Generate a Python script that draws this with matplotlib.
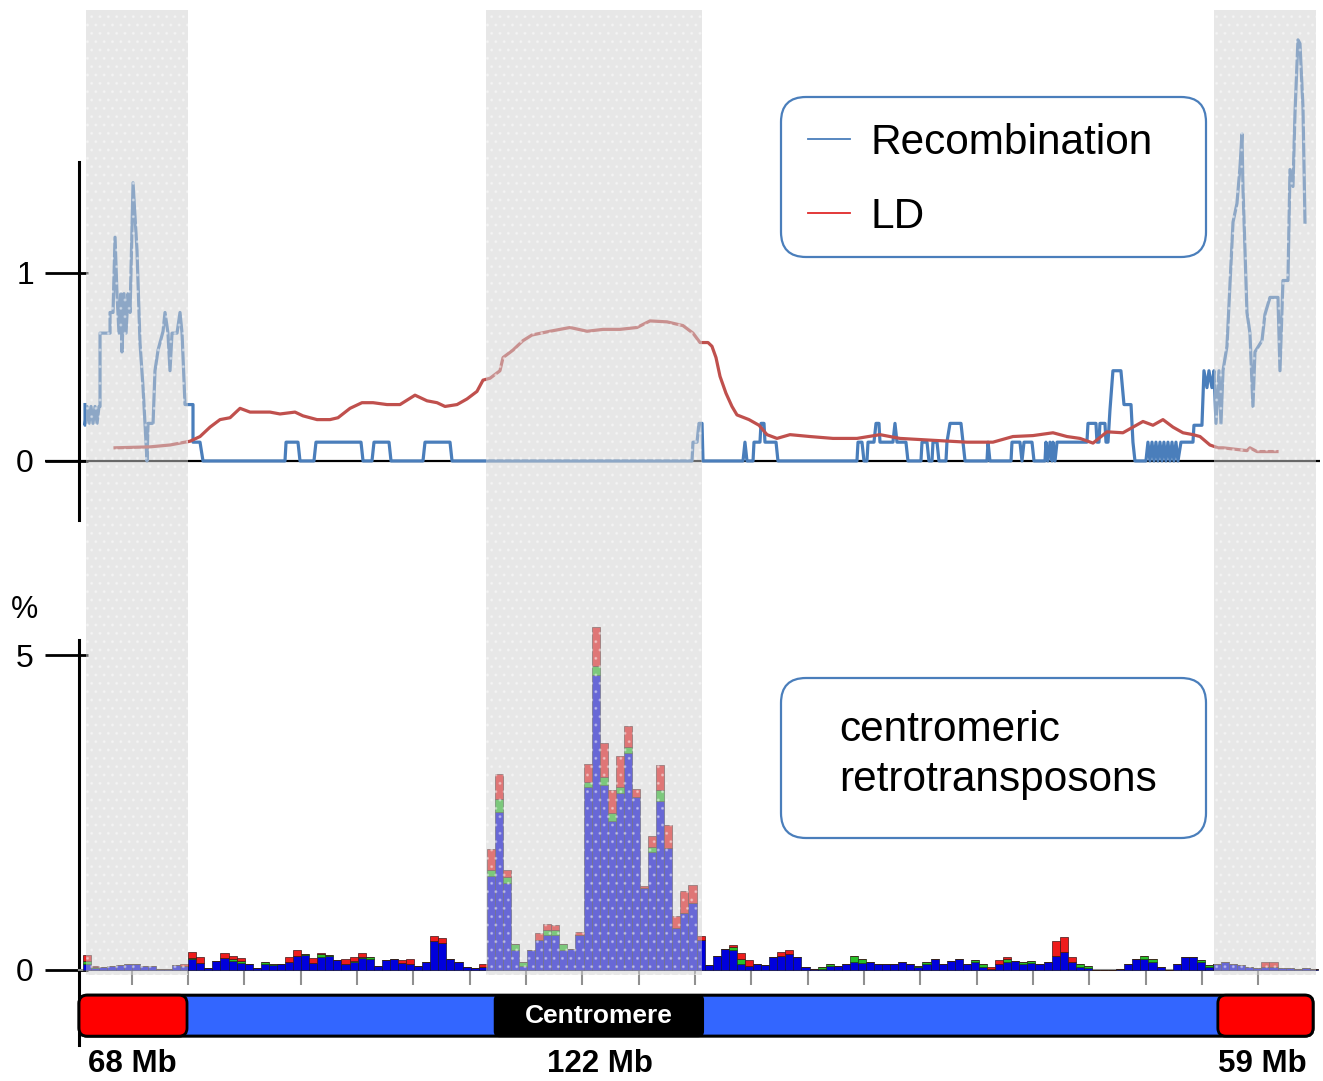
import numpy as np
import matplotlib.pyplot as plt
from matplotlib.patches import Rectangle, FancyBboxPatch
from matplotlib.lines import Line2D
from matplotlib.transforms import blended_transform_factory

plt.rcParams['font.family'] = ['Liberation Sans', 'DejaVu Sans']

# ---- top panel: recombination (step-like) and LD, x in bin units ----
recomb_pos = [0.62, 0.62, 0.87, 1.12, 1.36, 1.61, 1.86, 2.11, 2.35, 2.48,
              2.48, 3.72, 3.72, 4.09, 4.34, 4.58, 4.83, 5.08, 5.20, 5.45,
              5.70, 5.95, 6.20, 6.57, 6.82, 7.06, 7.43, 7.81, 8.30, 8.43,
              9.05, 9.29, 9.67, 10.29, 10.53, 10.90, 11.15, 11.40, 12.02, 12.39,
              12.64, 13.01,
              14.00, 14.00, 14.87, 15.24, 25.40, 25.53, 27.01, 27.26, 28.99, 29.24,
              34.82, 35.07, 36.18, 36.43, 38.29, 38.54, 42.50, 42.75, 45.85, 46.10,
              75.84, 75.96, 76.46, 76.70, 77.08, 77.20,
              82.16, 82.40, 82.65, 83.40, 83.52, 84.26, 84.39, 84.76, 84.88, 86.25, 86.49,
              96.28, 96.41, 96.90, 97.15, 97.52, 97.65, 98.39, 98.64, 99.01, 99.13,
              100.74, 100.99, 101.24, 102.35, 102.60,
              104.21, 104.34, 104.96, 105.20, 105.58, 105.70, 106.20, 106.44, 107.31, 107.43,
              107.81, 109.17, 109.42, 109.67,
              112.39, 112.52, 112.76, 115.37, 115.49, 116.48, 116.73, 116.98, 117.97, 118.22,
              119.58, 119.70, 119.95, 120.20, 120.45, 120.57, 120.82, 121.07, 124.78, 124.91,
              125.90, 126.02, 126.27, 126.39, 127.01, 127.14, 127.39, 127.63, 128.00, 128.99,
              129.37, 130.24, 130.48, 130.73, 132.09,
              132.34, 132.59, 132.84, 133.09, 133.33, 133.58, 133.83, 134.08, 134.32, 134.57,
              134.82, 135.07, 135.32, 135.56, 135.81, 136.06, 136.43,
              137.92, 138.04, 139.03, 139.28, 139.65, 139.90, 140.27, 140.52, 140.77, 141.14,
              141.39, 141.64, 142.13, 142.88, 143.37, 143.74, 143.99, 144.11, 144.61, 144.98,
              145.35, 145.60, 146.47, 146.84, 147.46, 148.45, 148.70, 149.07, 149.69, 149.94,
              150.31, 150.56, 150.93, 151.18, 151.55, 151.80]
recomb_val = [0.30, 0.19, 0.29, 0.20, 0.29, 0.20, 0.29, 0.20, 0.29, 0.29,
              0.68, 0.68, 0.79, 0.79, 1.19, 0.89, 0.68, 0.89, 0.58, 0.89,
              0.68, 0.89, 0.79, 1.48, 1.30, 1.12, 0.63, 0.39, 0.00, 0.20,
              0.20, 0.48, 0.59, 0.69, 0.79, 0.68, 0.48, 0.68, 0.68, 0.79,
              0.68, 0.30,
              0.30, 0.10, 0.10, 0.00, 0.00, 0.10, 0.10, 0.00, 0.00, 0.10,
              0.10, 0.00, 0.00, 0.10, 0.10, 0.00, 0.00, 0.10, 0.10, 0.00,
              0.00, 0.10, 0.10, 0.20, 0.20, 0.00,
              0.00, 0.10, 0.00, 0.00, 0.10, 0.10, 0.20, 0.20, 0.10, 0.10, 0.00,
              0.00, 0.10, 0.10, 0.00, 0.00, 0.10, 0.10, 0.20, 0.20, 0.10,
              0.10, 0.20, 0.10, 0.10, 0.00,
              0.00, 0.10, 0.10, 0.00, 0.00, 0.10, 0.10, 0.00, 0.00, 0.10,
              0.20, 0.20, 0.10, 0.00,
              0.00, 0.10, 0.00, 0.00, 0.10, 0.10, 0.00, 0.10, 0.10, 0.00,
              0.00, 0.10, 0.00, 0.10, 0.00, 0.10, 0.00, 0.10, 0.10, 0.20,
              0.20, 0.10, 0.10, 0.20, 0.20, 0.10, 0.10, 0.27, 0.48, 0.48,
              0.30, 0.30, 0.10, 0.00, 0.00,
              0.10, 0.00, 0.10, 0.00, 0.10, 0.00, 0.10, 0.00, 0.10, 0.00,
              0.10, 0.00, 0.10, 0.00, 0.10, 0.00, 0.10,
              0.10, 0.19, 0.19, 0.48, 0.39, 0.48, 0.39, 0.48, 0.20, 0.48,
              0.20, 0.48, 0.61, 1.27, 1.37, 1.56, 1.74, 1.46, 0.79, 0.68,
              0.29, 0.58, 0.64, 0.78, 0.87, 0.87, 0.48, 0.96, 0.96, 1.55,
              1.46, 1.85, 2.24, 2.22, 1.88, 1.27]

ld_pos = [4.34, 8.67, 11.15, 13.63, 14.87, 16.11, 17.35, 18.59, 19.83, 21.07,
          22.30, 23.54, 24.78, 26.64, 27.63, 29.37, 30.98, 31.97, 33.46, 34.94,
          36.31, 38.04, 39.65, 41.51, 43.00, 44.24, 45.23, 46.72, 47.96, 49.19,
          49.94, 50.81, 52.04, 52.42, 53.66, 54.89, 56.01, 58.24, 60.72, 62.83,
          64.81, 66.91, 69.02, 70.63, 72.74, 74.72, 75.96, 76.83, 77.82, 78.31,
          78.81, 79.31, 80.05, 80.79, 81.41, 82.90, 84.14, 85.13, 86.37, 87.98,
          90.46, 93.31, 96.28, 99.13, 101.61, 105.70, 109.91, 113.13, 115.61, 118.09,
          120.57, 122.30, 123.92, 125.53, 127.26, 129.24, 130.48, 131.72, 132.96, 134.20,
          135.44, 136.68, 137.92, 138.79, 140.02, 141.02, 141.64, 144.61, 144.98, 145.85,
          148.33]
ld_val = [0.07, 0.075, 0.085, 0.105, 0.13, 0.18, 0.22, 0.23, 0.28, 0.26,
          0.26, 0.26, 0.25, 0.26, 0.24, 0.22, 0.22, 0.23, 0.28, 0.31,
          0.31, 0.30, 0.30, 0.35, 0.32, 0.31, 0.29, 0.30, 0.33, 0.37,
          0.43, 0.44, 0.48, 0.55, 0.59, 0.64, 0.67, 0.69, 0.71, 0.69,
          0.70, 0.70, 0.71, 0.745, 0.74, 0.72, 0.68, 0.63, 0.63, 0.61,
          0.55, 0.45, 0.36, 0.29, 0.245, 0.22, 0.19, 0.14, 0.12, 0.14,
          0.13, 0.12, 0.12, 0.14, 0.12, 0.11, 0.10, 0.10, 0.13, 0.135,
          0.15, 0.13, 0.12, 0.095, 0.155, 0.15, 0.18, 0.21, 0.19, 0.22,
          0.18, 0.15, 0.14, 0.13, 0.085, 0.07, 0.07, 0.055, 0.07, 0.05,
          0.05]

# ---- bottom panel: retrotransposon % per bin (total, red and green parts) ----
tel_left_total = [0.24, 0.06, 0.05, 0.07, 0.08, 0.09, 0.09, 0.07, 0.06, 0.01, 0.01, 0.08, 0.09]
tel_left_red = [0.10, 0.02, 0, 0, 0, 0, 0, 0, 0, 0, 0, 0, 0.02]
tel_left_green = [0.05, 0.01, 0, 0, 0, 0, 0, 0, 0, 0, 0, 0, 0]

arm_left_total = [0.29, 0.21, 0.03, 0.14, 0.27, 0.22, 0.19, 0.10, 0.03, 0.13,
                  0.10, 0.10, 0.21, 0.31, 0.26, 0.19, 0.27, 0.24, 0.16, 0.18,
                  0.21, 0.27, 0.21, 0.06, 0.16, 0.17, 0.16, 0.18, 0.06, 0.13,
                  0.54, 0.50, 0.18, 0.13, 0.05, 0.03, 0.10]
arm_left_red = [0.10, 0.10, 0, 0, 0.08, 0.05, 0.05, 0, 0, 0,
                0, 0, 0.08, 0.08, 0, 0.08, 0.02, 0, 0, 0.08,
                0.06, 0.06, 0, 0, 0, 0, 0.05, 0.08, 0, 0,
                0.08, 0.07, 0, 0, 0, 0, 0.05]
arm_left_green = [0.02, 0, 0, 0, 0, 0.02, 0.03, 0, 0, 0.03,
                  0.02, 0, 0, 0, 0.02, 0, 0.05, 0.02, 0, 0,
                  0.03, 0.02, 0.04, 0, 0, 0, 0, 0, 0, 0,
                  0, 0, 0, 0, 0, 0, 0]

cen_total = [1.92, 3.11, 1.58, 0.41, 0.12, 0.32, 0.58, 0.73, 0.71, 0.42,
             0.34, 0.61, 3.27, 5.45, 3.60, 2.86, 3.39, 3.87, 2.88, 1.34,
             2.12, 3.25, 2.30, 0.85, 1.26, 1.35, 0.54]
cen_red = [0.33, 0.39, 0.10, 0, 0, 0, 0.10, 0.10, 0.08, 0,
           0, 0.05, 0.28, 0.63, 0.53, 0.37, 0.48, 0.33, 0.13, 0.04,
           0.16, 0.40, 0.37, 0.18, 0.36, 0.29, 0.07]
cen_green = [0.10, 0.21, 0.10, 0.10, 0.05, 0, 0, 0.08, 0.08, 0.10,
             0, 0, 0.08, 0.13, 0.13, 0.13, 0.10, 0.10, 0, 0,
             0.08, 0.16, 0, 0, 0, 0, 0]

arm_right_total = [0.085, 0.22, 0.34, 0.40, 0.27, 0.16, 0.095, 0.085, 0.20, 0.29,
                   0.32, 0.21, 0.04, 0.01, 0.05, 0.10, 0.06, 0.10, 0.22, 0.18,
                   0.12, 0.095, 0.095, 0.095, 0.12, 0.095, 0.07, 0.13, 0.18, 0.10,
                   0.15, 0.17,
                   0.10, 0.16, 0.09, 0.04, 0.16, 0.21, 0.15, 0.13, 0.14, 0.10,
                   0.13, 0.46, 0.52, 0.20, 0.09, 0.07, 0, 0, 0, 0.01,
                   0.10, 0.18, 0.23, 0.17, 0.04, 0, 0.10, 0.21, 0.21, 0.16,
                   0.08]
arm_right_red = [0, 0, 0, 0.03, 0.10, 0.10, 0, 0, 0, 0.07,
                 0.07, 0, 0, 0, 0, 0, 0, 0, 0, 0,
                 0, 0, 0, 0, 0, 0, 0, 0, 0, 0,
                 0, 0,
                 0, 0, 0, 0.02, 0.06, 0.04, 0, 0, 0, 0,
                 0, 0.23, 0.24, 0.08, 0, 0, 0, 0, 0, 0,
                 0, 0, 0, 0, 0, 0, 0, 0, 0, 0,
                 0]
arm_right_green = [0, 0, 0, 0.05, 0.07, 0, 0, 0, 0, 0,
                   0, 0, 0, 0, 0.03, 0.04, 0, 0, 0.10, 0.07,
                   0, 0, 0, 0, 0, 0, 0.03, 0.04, 0, 0,
                   0, 0,
                   0, 0.04, 0.04, 0, 0, 0.04, 0, 0.03, 0.03, 0,
                   0, 0, 0, 0, 0.04, 0.04, 0, 0, 0, 0,
                   0, 0, 0.05, 0.04, 0, 0, 0, 0, 0, 0.04,
                   0.04]

tel_right_total = [0.10, 0.12, 0.10, 0.08, 0.04, 0.03, 0.12, 0.12, 0.03, 0.03, 0.02, 0.03, 0.02]
tel_right_red = [0, 0, 0, 0, 0, 0, 0.08, 0.08, 0, 0, 0, 0, 0]
tel_right_green = [0] * 13

bar_total = np.array(tel_left_total + arm_left_total + cen_total + arm_right_total + tel_right_total)
bar_red = np.array(tel_left_red + arm_left_red + cen_red + arm_right_red + tel_right_red)
bar_green = np.array(tel_left_green + arm_left_green + cen_green + arm_right_green + tel_right_green)
bar_blue = bar_total - bar_red - bar_green
bar_start = 0.4

# regions shaded grey (telomeric ends and centromere)
shade_spans = [(0.74, 13.4), (50.35, 77.1), (140.5, 153.2)]
tick_pos = 6.41 + 6.98 * np.arange(21)

# chromosome schematic
chrom_span = (-0.12, 152.8)
tel_spans = [(-0.12, 13.26), (141.0, 152.8)]
cen_span = (51.4, 77.2)
size_labels = ['68 Mb', '122 Mb', '59 Mb']
size_label_pos = [6.44, 64.4, 146.5]

BLUE = '#4a7ebb'
RED = '#c0504d'
W, H = 1323, 1081
XLIM = (-4.34, 153.66)

fig = plt.figure(figsize=(W / 100, H / 100), dpi=100)

# ---------- top panel ----------
ax1 = fig.add_axes([45 / W, 1 - 520 / H, 1275 / W, 520 / H])
ax1.set_facecolor('none')
ax1.set_xlim(XLIM)
ax1.set_ylim(-0.314, 2.452)
ax1.axhline(0, color='black', lw=1.6, zorder=2)
ax1.plot(recomb_pos, recomb_val, color=BLUE, lw=2.3, zorder=3)
ax1.plot(ld_pos, ld_val, color=RED, lw=2.3, zorder=4)
for s in ['top', 'right', 'bottom']:
    ax1.spines[s].set_visible(False)
ax1.spines['left'].set_position(('data', -0.12))
ax1.spines['left'].set_bounds(-0.314, 1.59)
ax1.spines['left'].set_linewidth(2.2)
ax1.set_xticks([])
ax1.yaxis.remove_overlapping_locs = False
ax1.set_yticks([0, 1])
ax1.set_yticks([0, 1], minor=True)
ax1.tick_params(axis='y', which='major', direction='out', length=24.5, width=2.0, pad=8, labelsize=23)
ax1.tick_params(axis='y', which='minor', direction='in', length=6.5, width=2.0)

box1 = FancyBboxPatch((7.81, 8.24), 4.25, 1.60, boxstyle='round,pad=0,rounding_size=0.25',
                      transform=fig.dpi_scale_trans, fc='white', ec=BLUE, lw=1.6,
                      zorder=4.5, clip_on=False)
ax1.add_patch(box1)
handles = [Line2D([], [], color=BLUE, lw=1.3), Line2D([], [], color='#e02a2a', lw=1.3)]
leg = ax1.legend(handles, ['Recombination', 'LD'], loc='center left',
                 bbox_to_anchor=(808 / W, 1 - 180 / H), bbox_transform=fig.transFigure,
                 frameon=False, borderpad=0, borderaxespad=0, handlelength=1.0,
                 handletextpad=0.48, labelspacing=0.8, fontsize=30.5)
leg.set_zorder(6)

# ---------- bottom panel ----------
ax2 = fig.add_axes([45 / W, 0, 1275 / W, 521 / H])
ax2.set_facecolor('none')
ax2.set_xlim(XLIM)
ax2.set_ylim(-1.762, 6.508)
x = np.arange(len(bar_total)) + bar_start + 0.5
ax2.bar(x, bar_blue, width=1, color='#0000dc', edgecolor='#14143c', lw=0.5, zorder=3)
ax2.bar(x, bar_green, width=1, bottom=bar_blue, color='#28c028', edgecolor='#144014', lw=0.5, zorder=3)
ax2.bar(x, bar_red, width=1, bottom=bar_blue + bar_green, color='#ee1c1c', edgecolor='#401414', lw=0.5, zorder=3)

for s in ['top', 'right']:
    ax2.spines[s].set_visible(False)
ax2.spines['left'].set_position(('data', -0.12))
ax2.spines['left'].set_bounds(-1.19, 5.238)
ax2.spines['left'].set_linewidth(2.2)
ax2.spines['bottom'].set_position(('data', 0))
ax2.spines['bottom'].set_bounds(-0.12, 153.2)
ax2.spines['bottom'].set_color('#909090')
ax2.spines['bottom'].set_linewidth(1.5)
ax2.set_xticks(tick_pos)
ax2.set_xticklabels([])
ax2.tick_params(axis='x', direction='out', length=10.8, width=1.5, color='#909090')
ax2.yaxis.remove_overlapping_locs = False
ax2.set_yticks([0, 5])
ax2.set_yticks([0, 5], minor=True)
ax2.tick_params(axis='y', which='major', direction='out', length=24.5, width=2.0, pad=8, labelsize=23)
ax2.tick_params(axis='y', which='minor', direction='in', length=6.5, width=2.0)

# chromosome schematic
asp = 8.07 / 63
cy0, cy1 = -1.05, -0.40
ax2.add_patch(FancyBboxPatch((chrom_span[0], cy0), chrom_span[1] - chrom_span[0], cy1 - cy0,
                             boxstyle='round,pad=0,rounding_size=1.0', mutation_aspect=asp,
                             fc='#3366ff', ec='black', lw=2.2, zorder=4, clip_on=False))
for a, b in tel_spans:
    ax2.add_patch(FancyBboxPatch((a, cy0), b - a, cy1 - cy0,
                                 boxstyle='round,pad=0,rounding_size=1.0', mutation_aspect=asp,
                                 fc='#ff0000', ec='black', lw=2.0, zorder=5, clip_on=False))
ax2.add_patch(FancyBboxPatch((cen_span[0], cy0), cen_span[1] - cen_span[0], cy1 - cy0,
                             boxstyle='round,pad=0,rounding_size=0.6', mutation_aspect=asp,
                             fc='black', ec='black', lw=1.5, zorder=5, clip_on=False))
ax2.text(sum(cen_span) / 2, (cy0 + cy1) / 2, 'Centromere', color='white', fontweight='bold',
         fontsize=19, ha='center', va='center', zorder=6)
for lab, p in zip(size_labels, size_label_pos):
    ax2.text(p, -1.49, lab, fontweight='bold', fontsize=22.5, ha='center', va='center')

box2 = FancyBboxPatch((7.81, 2.43), 4.25, 1.60, boxstyle='round,pad=0,rounding_size=0.25',
                      transform=fig.dpi_scale_trans, fc='white', ec=BLUE, lw=1.6,
                      zorder=5, clip_on=False)
ax2.add_patch(box2)
ax2.text(8.39, 3.26, 'centromeric\nretrotransposons', transform=fig.dpi_scale_trans,
         fontsize=30.5, ha='left', va='center', linespacing=1.32, zorder=6)

fig.text(25 / W, 1 - 610 / H, '%', fontsize=22, ha='center', va='center')

# grey translucent bands over both panels
trans = blended_transform_factory(ax1.transData, fig.transFigure)
for a, b in shade_spans:
    fig.add_artist(Rectangle((a, 1 - 975 / H), b - a, 965 / H, transform=trans,
                             facecolor='#d1d1d1', alpha=0.5, edgecolor='none', zorder=1))
    fig.add_artist(Rectangle((a, 1 - 975 / H), b - a, 965 / H, transform=trans,
                             fill=False, hatch='..', edgecolor='white', lw=0, alpha=0.35, zorder=1.1))

fig.savefig('out.png', dpi=100)
